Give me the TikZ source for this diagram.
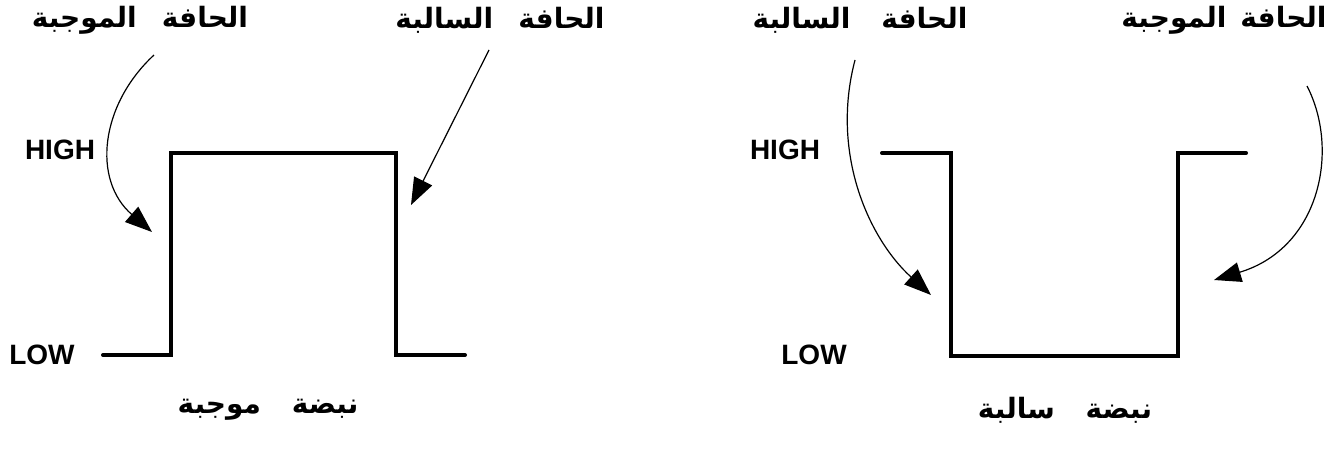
\documentclass[tikz,border=0pt]{standalone}
\usepackage{fontspec}
\setmainfont{Liberation Sans}
\newfontfamily\arabicfont[Script=Arabic]{DejaVu Sans}
\TeXXeTstate=1
\usetikzlibrary{arrows.meta}
\begin{document}
\begin{tikzpicture}[x=1pt,y=1pt,
  wave/.style={line width=4pt, line join=miter, line cap=round},
  lvl/.style={font=\fontsize{28}{30}\selectfont\bfseries, inner sep=0pt},
  lbl/.style={font=\arabicfont\fontsize{28}{32}\bfseries\selectfont, inner sep=0pt},
  edgearrow/.style={line width=1.2pt, -{Triangle[length=27pt,width=20pt]}}]
\useasboundingbox (0,0) rectangle (1337,-461);

% ---- left: positive pulse ----
\coordinate (a0) at (103,-355);
\coordinate (a1) at (171,-355);
\coordinate (a2) at (171,-153);
\coordinate (a3) at (396,-153);
\coordinate (a4) at (396,-355);
\coordinate (a5) at (465,-355);
\draw[wave] (a0) -- (a1) -- (a2) -- (a3) -- (a4) -- (a5);

\node[lvl] (highA) at (60,-150) {HIGH};
\node[lvl] (lowA) at (42,-355) {LOW};

\node[lbl] (posA) at (140,-20) {\beginR الحافة\hspace{0.9em}الموجبة\endR};
\node[lbl] (negA) at (500,-20) {\beginR الحافة\hspace{0.9em}السالبة\endR};
\node[lbl] (titleA) at (268,-410) {\beginR نبضة\hspace{1.1em}موجبة\endR};

\coordinate (posAs) at (154,-55);
\coordinate (posAt) at (152,-232);
\coordinate (negAs) at (489,-50);
\coordinate (negAt) at (411,-205);
\draw[edgearrow] (posAs) .. controls (100,-105) and (92,-180) .. (posAt);
\draw[edgearrow] (negAs) -- (negAt);

% ---- right: negative pulse ----
\coordinate (b0) at (882,-153);
\coordinate (b1) at (951,-153);
\coordinate (b2) at (951,-356);
\coordinate (b3) at (1178,-356);
\coordinate (b4) at (1178,-153);
\coordinate (b5) at (1246,-153);
\draw[wave] (b0) -- (b1) -- (b2) -- (b3) -- (b4) -- (b5);

\node[lvl] (highB) at (785,-150) {HIGH};
\node[lvl] (lowB) at (814,-355) {LOW};

\node[lbl] (negB) at (860,-20) {\beginR الحافة\hspace{1.1em}السالبة\endR};
\node[lbl] (posB) at (1224,-20) {\beginR الحافة\hspace{0.5em}الموجبة\endR};
\node[lbl] (titleB) at (1065,-410) {\beginR نبضة\hspace{1.1em}سالبة\endR};

\coordinate (negBs) at (855,-60);
\coordinate (negBt) at (931,-295);
\coordinate (posBs) at (1307,-86);
\coordinate (posBt) at (1214,-280);
\draw[edgearrow] (negBs) .. controls (830,-155) and (870,-240) .. (negBt);
\draw[edgearrow] (posBs) .. controls (1340,-150) and (1320,-248) .. (posBt);
\end{tikzpicture}
\end{document}
